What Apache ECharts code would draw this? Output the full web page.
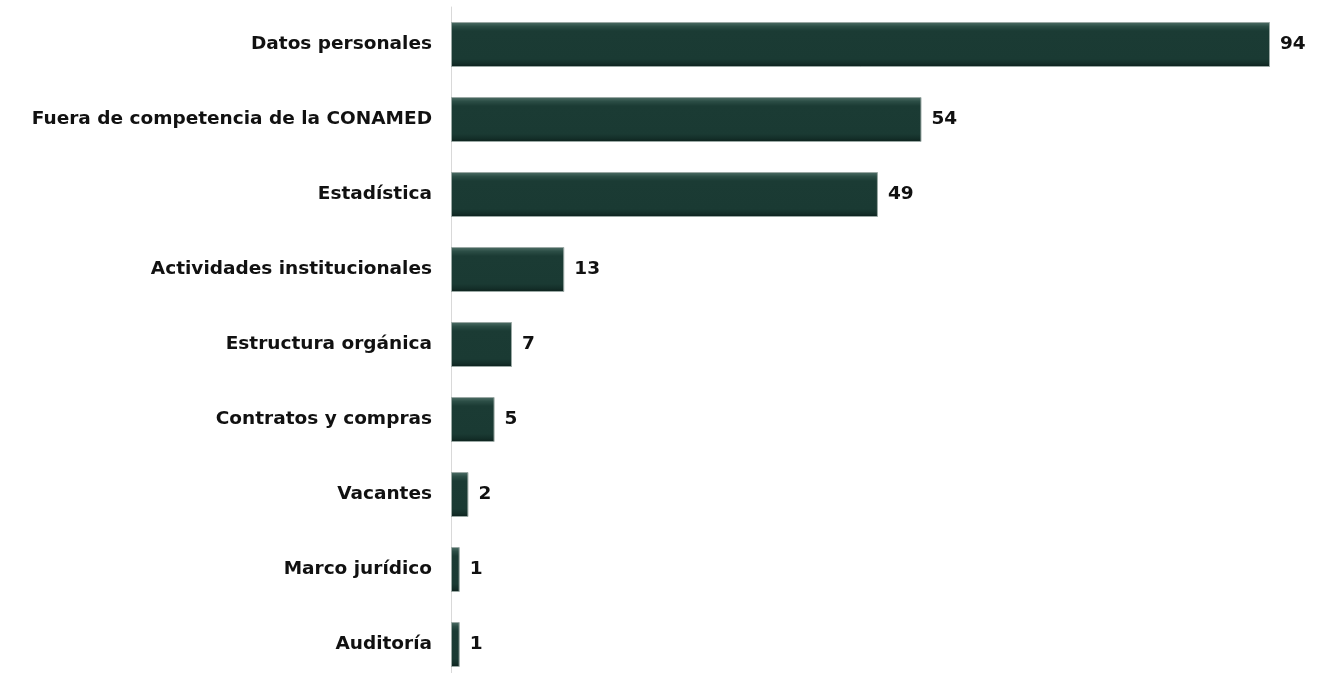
<!DOCTYPE html>
<html>
<head>
<meta charset="utf-8">
<script src="https://cdn.jsdelivr.net/npm/echarts@6/dist/echarts.min.js"></script>
<style>
  html, body { margin: 0; padding: 0; background: #fff; }
  #chart { width: 1317px; height: 673px; }
</style>
</head>
<body>
<div id="chart"></div>
<script>
// Solicitudes por tema (top to bottom)
const categories = [
  'Datos personales',
  'Fuera de competencia de la CONAMED',
  'Estadística',
  'Actividades institucionales',
  'Estructura orgánica',
  'Contratos y compras',
  'Vacantes',
  'Marco jurídico',
  'Auditoría'
];
const values = [94, 54, 49, 13, 7, 5, 2, 1, 1];

const font = '"DejaVu Sans", "Open Sans", sans-serif';
const chart = echarts.init(document.getElementById('chart'), null, { renderer: 'canvas' });

chart.setOption({
  animation: false,
  backgroundColor: '#ffffff',
  grid: {
    left: 451, right: 47, top: 7, height: 675,
    containLabel: false, outerBoundsMode: 'none'
  },
  xAxis: {
    type: 'value', min: 0, max: 94,
    show: false
  },
  yAxis: {
    type: 'category',
    data: categories,
    inverse: true,
    axisLine: { show: true, lineStyle: { color: '#d9d9d9', width: 1 } },
    axisTick: { show: false },
    axisLabel: {
      margin: 19,
      color: '#111',
      fontFamily: font,
      fontWeight: 'bold',
      fontSize: 18.5
    }
  },
  series: [{
    type: 'bar',
    data: values,
    barWidth: 45,
    itemStyle: {
      color: new echarts.graphic.LinearGradient(0, 0, 0, 1, [
        { offset: 0, color: '#4f7068' },
        { offset: 0.1, color: '#2b4d45' },
        { offset: 0.2, color: '#1b3b34' },
        { offset: 0.82, color: '#1a3a33' },
        { offset: 0.92, color: '#142f29' },
        { offset: 1, color: '#0c201c' }
      ]),
      borderColor: '#9aa8a4',
      borderWidth: 1
    },
    label: {
      show: true,
      position: 'right',
      distance: 10,
      color: '#111',
      fontFamily: font,
      fontWeight: 'bold',
      fontSize: 18.5
    }
  }]
});
</script>
</body>
</html>
